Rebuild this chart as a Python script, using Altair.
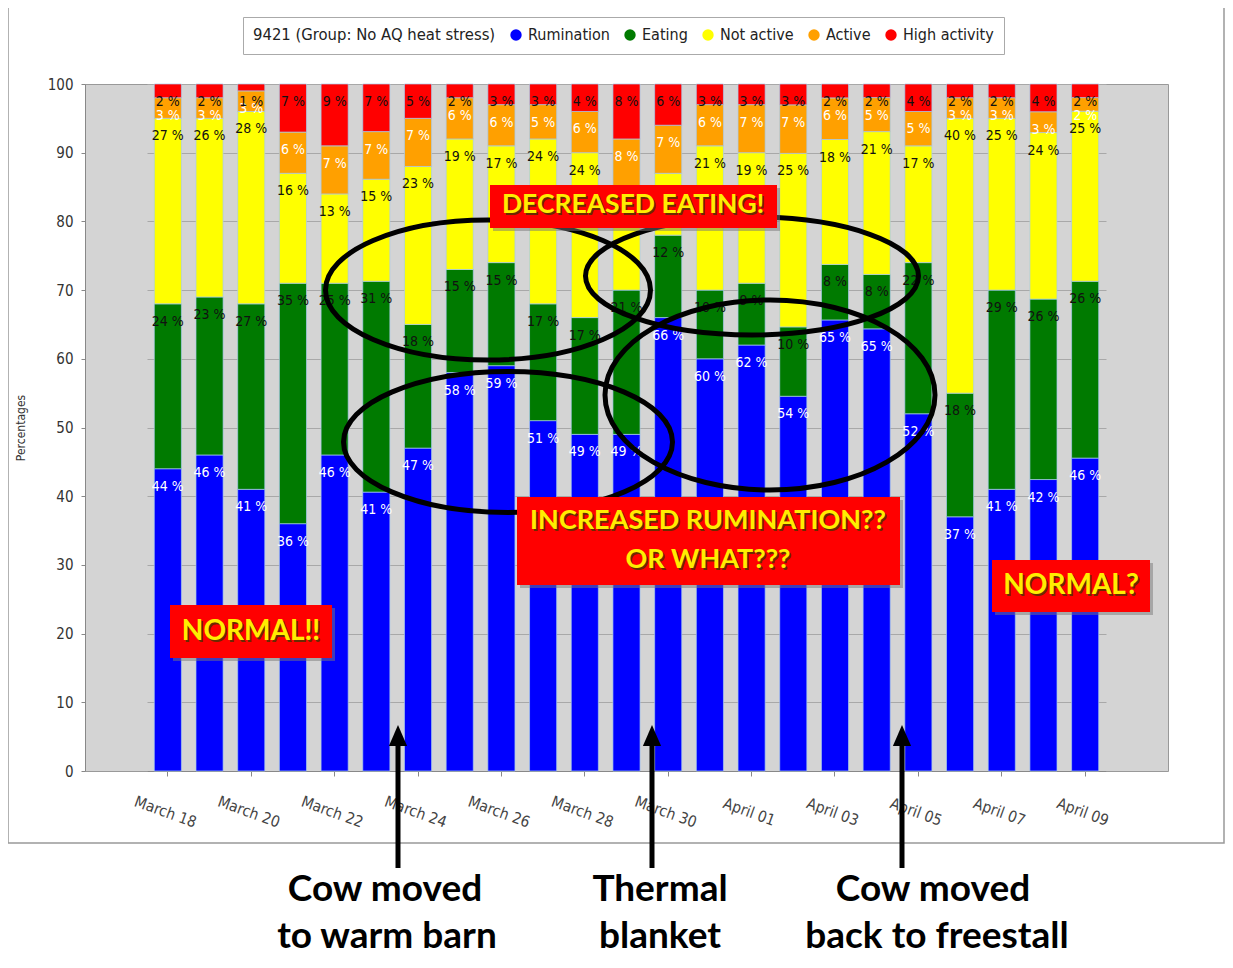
import altair as alt
import pandas as pd

# ---------------- data ----------------
dates = ["March 18", "March 19", "March 20", "March 21", "March 22", "March 23",
         "March 24", "March 25", "March 26", "March 27", "March 28", "March 29",
         "March 30", "March 31", "April 01", "April 02", "April 03", "April 04",
         "April 05", "April 06", "April 07", "April 08", "April 09"]
tick_dates = dates[::2]

rumination = [44, 46, 41, 36, 46, 41, 47, 58, 59, 51, 49, 49, 66, 60, 62, 54, 65, 65, 52, 37, 41, 42, 46]
eating = [24, 23, 27, 35, 25, 31, 18, 15, 15, 17, 17, 21, 12, 10, 9, 10, 8, 8, 22, 18, 29, 26, 26]
not_active = [27, 26, 28, 16, 13, 15, 23, 19, 17, 24, 24, 14, 9, 21, 19, 25, 18, 21, 17, 40, 25, 24, 25]
active = [3, 3, 3, 6, 7, 7, 7, 6, 6, 5, 6, 8, 7, 6, 7, 7, 6, 5, 5, 3, 3, 3, 2]
high_activity = [2, 2, 1, 7, 9, 7, 5, 2, 3, 3, 4, 8, 6, 3, 3, 3, 2, 2, 4, 2, 2, 4, 2]

activities = ["Rumination", "Eating", "Not active", "Active", "High activity"]
colors = ["#0000FF", "#007A00", "#FFFF00", "#FFA000", "#FF0000"]
legend_title = "9421 (Group: No AQ heat stress)"

series = [rumination, eating, not_active, active, high_activity]
rows = []
for i, d in enumerate(dates):
    vals = [s[i] for s in series]
    total = sum(vals)
    cum = 0
    for k, (a, v) in enumerate(zip(activities, vals)):
        y0 = cum / total * 100
        cum += v
        y1 = cum / total * 100
        rows.append(dict(date=d, activity=a, value=v, order=k, y0=y0, y1=y1, label=f"{v} %"))
df = pd.DataFrame(rows)

FONT = "DejaVu Sans Condensed, Liberation Sans Narrow, DejaVu Sans"
BIG = "Lato"

x_enc = alt.X("date:N", sort=dates,
              scale=alt.Scale(paddingInner=0.35, paddingOuter=0.175, range=[62, 1021]),
              axis=alt.Axis(values=tick_dates, title=None, labelAngle=20, labelAlign="center",
                            labelBaseline="top", labelPadding=29, tickSize=5, grid=False,
                            domainColor="#888", tickColor="#888", labelColor="#444",
                            labelFontSize=15.5, labelFont=FONT))
y_enc = alt.Y("y1:Q", scale=alt.Scale(domain=[0, 100], nice=False),
              axis=alt.Axis(title="Percentages", values=list(range(0, 101, 10)), tickSize=4,
                            labelPadding=8, labelFontSize=15, labelFont=FONT, labelColor="#333",
                            titleFont=FONT, titleFontSize=12, titleFontWeight="normal",
                            titleColor="#333", titlePadding=20, domainColor="#888",
                            tickColor="#888", gridColor="#A8A8A8", gridWidth=1))

bars = alt.Chart(df).mark_bar(stroke="#A8CCEE", strokeWidth=0.7).encode(
    x=x_enc, y=y_enc, y2="y0:Q",
    order=alt.Order("order:Q"),
    color=alt.Color("activity:N", scale=alt.Scale(domain=activities, range=colors),
                    legend=alt.Legend(orient="none", legendX=158, legendY=-67,
                                      direction="horizontal", title=legend_title,
                                      titleOrient="left", titleFontWeight="normal",
                                      titleFontSize=16.5, titleFont=FONT, titleColor="#222",
                                      titleLimit=600, labelLimit=300,
                                      labelFontSize=16, labelFont=FONT, labelColor="#222",
                                      symbolType="circle", symbolSize=130, symbolStrokeWidth=0,
                                      fillColor="white", strokeColor="#AAAAAA", padding=10,
                                      columnPadding=12, titlePadding=12, labelOffset=4)),
)

labels = alt.Chart(df).mark_text(dy=18, baseline="middle", fontSize=14, font=FONT).encode(
    x=alt.X("date:N", sort=dates),
    y=alt.Y("y1:Q"),
    text="label:N",
    color=alt.condition("datum.activity == 'Rumination' || datum.activity == 'Active'",
                        alt.value("white"), alt.value("#111")),
)

one = alt.Data(values=[{}])

# outer frame
frame = alt.Chart(one).mark_rect(fillOpacity=0, stroke="#999999", strokeWidth=1.5).encode(
    x=alt.value(-77), x2=alt.value(1139), y=alt.value(-78), y2=alt.value(759))


def ellipse_path(r):
    k = 0.5523
    return (f"M-1,0C-1,{-k*r:.4f},{-k:.4f},{-r:.4f},0,{-r:.4f}"
            f"C{k:.4f},{-r:.4f},1,{-k*r:.4f},1,0"
            f"C1,{k*r:.4f},{k:.4f},{r:.4f},0,{r:.4f}"
            f"C{-k:.4f},{r:.4f},-1,{k*r:.4f},-1,0Z")


ellipses_spec = [  # cx, cy, width, height (plot pixels)
    (403, 206, 325, 140),
    (667, 192, 333, 118),
    (423, 358, 329, 141),
    (685, 311, 330, 190),
]
ellipses = [
    alt.Chart(one).mark_point(shape=ellipse_path(h / w), size=w * w, filled=False,
                              stroke="black", strokeWidth=5, opacity=1).encode(
        x=alt.value(cx), y=alt.value(cy))
    for cx, cy, w, h in ellipses_spec
]

boxes_spec = [  # x, x2, y, y2
    (405, 692, 101, 144),
    (432, 815, 413, 501),
    (85, 247, 521, 574),
    (907, 1065, 476, 528),
]
boxes = []
for bx, bx2, by, by2 in boxes_spec:
    boxes.append(alt.Chart(one).mark_rect(color="#777777", opacity=0.5).encode(
        x=alt.value(bx + 3), x2=alt.value(bx2 + 3), y=alt.value(by + 3), y2=alt.value(by2 + 3)))
    boxes.append(alt.Chart(one).mark_rect(color="#FF0000").encode(
        x=alt.value(bx), x2=alt.value(bx2), y=alt.value(by), y2=alt.value(by2)))

box_texts_spec = [  # text, x, y, size
    ("DECREASED EATING!", 548, 121, 26.5),
    ("INCREASED RUMINATION??", 623, 437, 27),
    ("OR WHAT???", 623, 476, 27),
    ("NORMAL!!", 166, 548, 28),
    ("NORMAL?", 986, 502, 28),
]
box_texts = []
for t, tx, ty, fs in box_texts_spec:
    box_texts.append(alt.Chart(one).mark_text(text=t, font=BIG, fontWeight="bold", fontSize=fs,
                                              color="#6A2A00", baseline="middle", align="center",
                                              dx=1.5, dy=1.5).encode(
        x=alt.value(tx), y=alt.value(ty)))
    box_texts.append(alt.Chart(one).mark_text(text=t, font=BIG, fontWeight="bold", fontSize=fs,
                                              color="#FFEE00", baseline="middle",
                                              align="center").encode(
        x=alt.value(tx), y=alt.value(ty)))

arrow_x = [313, 567, 817]
arrows = []
for ax in arrow_x:
    arrows.append(alt.Chart(one).mark_rule(color="black", strokeWidth=5).encode(
        x=alt.value(ax), y=alt.value(660), y2=alt.value(784)))
    arrows.append(alt.Chart(one).mark_point(shape="M0,-1L0.65,0.5L-0.65,0.5Z", size=784,
                                            filled=True, color="black", opacity=1).encode(
        x=alt.value(ax), y=alt.value(655)))

bottom_spec = [
    ("Cow moved", 300, 806), ("to warm barn", 302, 853),
    ("Thermal", 575, 806), ("blanket", 575, 853),
    ("Cow moved", 848, 806), ("back to freestall", 852, 853),
]
bottom_texts = [
    alt.Chart(one).mark_text(text=t, font=BIG, fontWeight="bold", fontSize=37, color="black",
                             baseline="middle", align="center").encode(
        x=alt.value(tx), y=alt.value(ty))
    for t, tx, ty in bottom_spec
]

chart = alt.layer(
    frame, bars, labels, *ellipses, *boxes, *box_texts, *arrows, *bottom_texts
).properties(
    width=1083, height=687,
    autosize=alt.AutoSizeParams(type="none"),
    padding={"left": 77, "top": 76, "right": 57, "bottom": 189},
    background="white",
).configure_view(fill="#D4D4D4", stroke="#999999")

chart.save("out.html", embed_options={"renderer": "svg", "actions": False})
